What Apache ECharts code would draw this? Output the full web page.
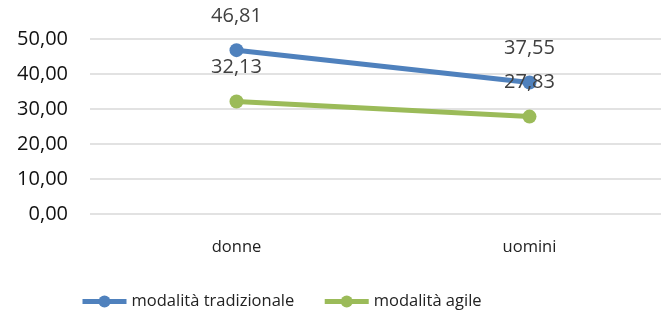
<!DOCTYPE html>
<html>
<head>
<meta charset="utf-8">
<script src="https://cdn.jsdelivr.net/npm/echarts@6/dist/echarts.min.js"></script>
<style>
  html, body { margin: 0; padding: 0; background: #fff; }
  #chart { width: 661px; height: 310px; }
</style>
</head>
<body>
<div id="chart"></div>
<script>
// categorie e valori
const categories = ['donne', 'uomini'];
const tradizionale = [46.81, 37.55];
const agile = [32.13, 27.83];

const fmt = v => v.toFixed(2).replace('.', ',');
const font = '"Open Sans", "Liberation Sans", sans-serif';
const blue = '#4F81BD';
const green = '#9BBB59';

const myChart = echarts.init(document.getElementById('chart'));

const option = {
  animation: false,
  textStyle: { fontFamily: font },
  grid: {
    left: 90,
    top: 39,
    right: -15,
    height: 175,
    containLabel: false,
    outerBoundsMode: 'none',
  },
  legend: {
    bottom: -5,
    left: 75,
    itemWidth: 44,
    itemHeight: 15,
    itemGap: 28,
    selectedMode: false,
    textStyle: { color: '#222', fontSize: 16.5, fontFamily: font },
    data: [
      { name: 'modalità tradizionale', lineStyle: { color: blue, width: 5 }, itemStyle: { color: blue } },
      { name: 'modalità agile', lineStyle: { color: green, width: 5 }, itemStyle: { color: green } },
    ],
  },
  xAxis: {
    type: 'category',
    data: categories,
    boundaryGap: true,
    axisLine: { show: false },
    axisTick: { show: false },
    axisLabel: { color: '#222', fontSize: 16.5, margin: 25 },
  },
  yAxis: {
    type: 'value',
    min: 0,
    max: 50,
    interval: 10,
    axisLine: { show: false },
    axisTick: { show: false },
    axisLabel: {
      color: '#111',
      fontSize: 20,
      margin: 22,
      formatter: v => fmt(v),
    },
    splitLine: { lineStyle: { color: '#d9d9d9', width: 1.5 } },
  },
  series: [
    {
      name: 'modalità tradizionale',
      type: 'line',
      data: tradizionale,
      symbol: 'circle',
      symbolSize: 14,
      lineStyle: { color: blue, width: 5 },
      itemStyle: { color: blue },
      label: {
        show: true,
        position: 'top',
        distance: 17,
        color: '#404040',
        fontSize: 20,
        formatter: p => fmt(p.value),
      },
    },
    {
      name: 'modalità agile',
      type: 'line',
      data: agile,
      symbol: 'circle',
      symbolSize: 14,
      lineStyle: { color: green, width: 5 },
      itemStyle: { color: green },
      label: {
        show: true,
        position: 'top',
        distance: 17,
        color: '#404040',
        fontSize: 20,
        formatter: p => fmt(p.value),
      },
    },
  ],
};
myChart.setOption(option);
</script>
</body>
</html>
